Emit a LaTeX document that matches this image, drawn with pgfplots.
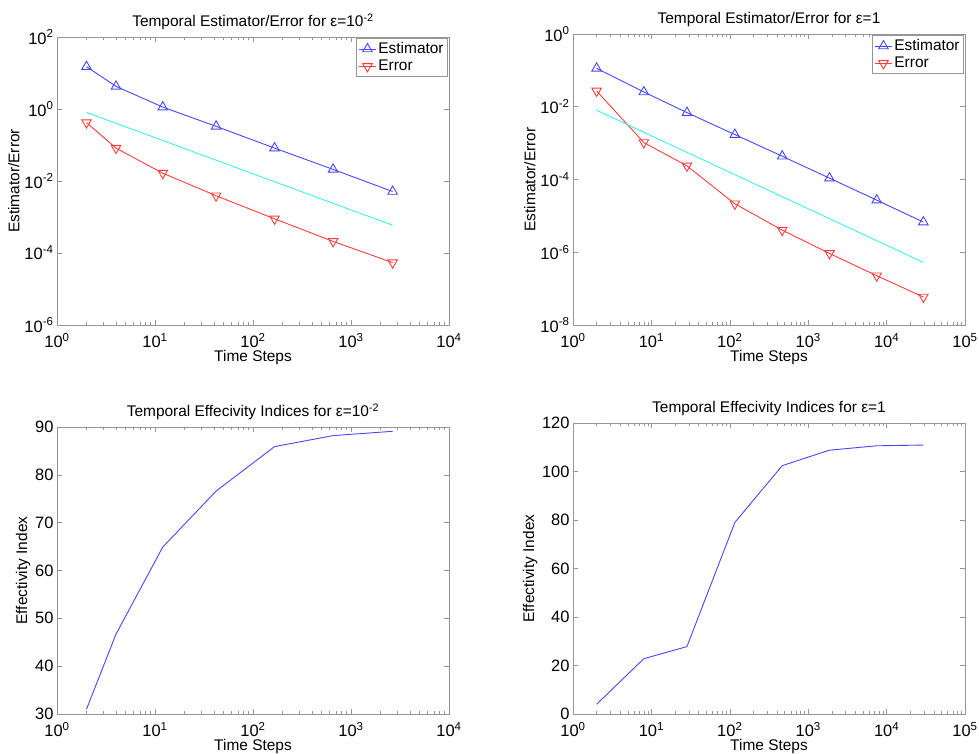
\documentclass[border=0pt]{standalone}
\usepackage{fontspec}
\setmainfont{Liberation Sans}
\usepackage{pgfplots}
\pgfplotsset{compat=1.18}

\definecolor{mblue}{RGB}{70,70,255}
\definecolor{mred}{RGB}{255,60,60}
\definecolor{mcyan}{RGB}{60,240,240}
\definecolor{boxgray}{RGB}{150,150,150}

\newcommand{\fs}{\fontsize{15.5}{17}\selectfont}
\newcommand{\fst}{\fontsize{16.5}{18}\selectfont}
\newcommand{\pw}[1]{\textsuperscript{#1}}

\pgfplotsset{
  mat/.style={
    scale only axis,
    anchor=south west,
    axis line style={boxgray, line width=0.8pt},
    every tick/.style={boxgray, line width=0.6pt},
    major tick length=5bp,
    minor tick length=3bp,
    tick label style={font=\fst, black},
    xticklabel style={yshift=-5bp},
    label style={font=\fs},
    title style={font=\fs, yshift=-2bp},
    xlabel={Time Steps},
    xlabel style={yshift=4bp},
    ylabel style={yshift=-2bp},
    /pgf/number format/assume math mode=true,
    yminorticks=false,
  },
  est/.style={mblue, line width=0.9pt, mark=triangle, mark size=5.5bp, mark options={solid}},
  err/.style={mred, line width=0.9pt, mark=triangle, mark size=5.5bp, mark options={solid, rotate=180}},
  leg/.style={legend style={at={(0.997,0.995)}, anchor=north east, draw=boxgray, font=\fontsize{15.5}{17}\selectfont, inner sep=2bp, row sep=1bp}, legend cell align=left},
}

\begin{document}
\begin{tikzpicture}
\useasboundingbox (0,0) rectangle (979bp,754bp);

% top left
\begin{axis}[mat, leg, at={(57bp,429bp)}, width=392bp, height=288bp,
  xmode=log, ymode=log, xmin=1, xmax=1e4, ymin=1e-6, ymax=1e2,
  xtick={1,10,100,1000,10000},
  xticklabels={10\pw{0},10\pw{1},10\pw{2},10\pw{3},10\pw{4}},
  ytick={1e-6,1e-4,1e-2,1,1e2},
  yticklabels={10\pw{-6},10\pw{-4},10\pw{-2},10\pw{0},10\pw{2}},
  ylabel={Estimator/Error},
  title={Temporal Estimator/Error for ε=10\pw{-2}}]
\addplot[est] coordinates {(2,15) (4,4.25) (12,1.13) (42,0.33) (166,0.082) (657,0.021) (2660,0.0051)};
\addplot[err] coordinates {(2,0.42) (4,0.082) (12,0.0165) (42,0.0039) (166,8.9e-4) (657,2.1e-4) (2660,5.4e-5)};
\addplot[mcyan, line width=0.9pt, forget plot] coordinates {(2,0.805) (2660,5.9e-4)};
\legend{Estimator,Error}
\end{axis}

% top right
\begin{axis}[mat, leg, at={(573bp,429bp)}, width=392bp, height=291bp,
  xmode=log, ymode=log, xmin=1, xmax=1e5, ymin=1e-8, ymax=1,
  xtick={1,10,100,1000,10000,100000},
  xticklabels={10\pw{0},10\pw{1},10\pw{2},10\pw{3},10\pw{4},10\pw{5}},
  ytick={1e-8,1e-6,1e-4,1e-2,1},
  yticklabels={10\pw{-8},10\pw{-6},10\pw{-4},10\pw{-2},10\pw{0}},
  ylabel={Estimator/Error},
  title={Temporal Estimator/Error for ε=1}]
\addplot[est] coordinates {(2,0.114) (8,0.0255) (28.4,0.0069) (116,0.00172) (466,4.37e-4) (1867,1.09e-4) (7480,2.71e-5) (29450,6.75e-6)};
\addplot[err] coordinates {(2,0.0272) (8,1.04e-3) (28.4,2.37e-4) (116,2.15e-5) (466,4.06e-6) (1867,9.3e-7) (7480,2.26e-7) (29450,5.88e-8)};
\addplot[mcyan, line width=0.9pt, forget plot] coordinates {(2,8.0e-3) (29450,5.26e-7)};
\legend{Estimator,Error}
\end{axis}

% bottom left
\begin{axis}[mat, at={(57bp,40bp)}, width=392bp, height=287bp,
  xmode=log, xmin=1, xmax=1e4, ymin=30, ymax=90,
  xtick={1,10,100,1000,10000},
  xticklabels={10\pw{0},10\pw{1},10\pw{2},10\pw{3},10\pw{4}},
  ytick={30,40,50,60,70,80,90},
  ylabel={Effectivity Index},
  title={Temporal Effecivity Indices for ε=10\pw{-2}}]
\addplot[mblue, line width=0.9pt] coordinates {(2,31) (4,46.7) (12,64.9) (42,76.6) (166,85.9) (657,88.2) (2660,89.1)};
\end{axis}

% bottom right
\begin{axis}[mat, at={(573bp,40bp)}, width=392bp, height=291bp,
  xmode=log, xmin=1, xmax=1e5, ymin=0, ymax=120,
  xtick={1,10,100,1000,10000,100000},
  xticklabels={10\pw{0},10\pw{1},10\pw{2},10\pw{3},10\pw{4},10\pw{5}},
  ytick={0,20,40,60,80,100,120},
  ylabel={Effectivity Index},
  title={Temporal Effecivity Indices for ε=1}]
\addplot[mblue, line width=0.9pt] coordinates {(2,4.0) (8,22.8) (28.4,27.8) (116,79.0) (466,102.4) (1867,108.8) (7480,110.6) (29450,110.9)};
\end{axis}
\end{tikzpicture}
\end{document}
